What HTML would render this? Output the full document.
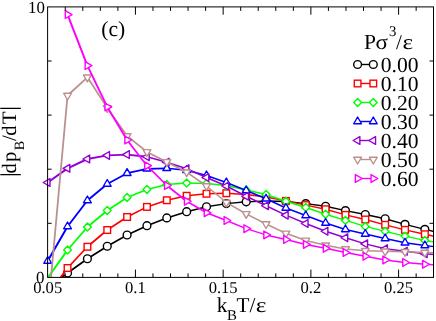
<!DOCTYPE html>
<html><head><meta charset="utf-8"><title>plot</title>
<style>
html,body{margin:0;padding:0;background:#fff;}
body{width:436px;height:321px;overflow:hidden;}
svg{display:block;will-change:transform;}
text{font-family:"Liberation Serif",serif;fill:#000;text-rendering:geometricPrecision;}
.sans{font-family:"Liberation Sans",sans-serif;}
</style></head><body>
<svg width="436" height="321" viewBox="0 0 436 321">
<rect x="0" y="0" width="436" height="321" fill="#fff"/>

<defs><clipPath id="box"><rect x="47.6" y="6.9" width="385.9" height="270.5"/></clipPath></defs>
<g id="black">
<g clip-path="url(#box)" fill="none" stroke="#000000" stroke-linecap="round">
<path d="M47.70 287.00L67.55 273.00" stroke-width="1.83"/>
<path d="M67.55 273.00L87.40 258.75" stroke-width="1.78"/>
<path d="M87.40 258.75L107.25 246.25" stroke-width="1.73"/>
<path d="M107.25 246.25L127.10 235.00" stroke-width="1.68"/>
<path d="M127.10 235.00L146.95 225.70" stroke-width="1.62"/>
<path d="M146.95 225.70L166.80 217.90" stroke-width="1.58"/>
<path d="M166.80 217.90L186.65 211.70" stroke-width="1.53"/>
<path d="M186.65 211.70L206.50 206.75" stroke-width="1.48"/>
<path d="M206.50 206.75L226.35 203.60" stroke-width="1.43"/>
<path d="M226.35 203.60L246.20 201.80" stroke-width="1.38"/>
<path d="M246.20 201.80L266.05 201.00" stroke-width="1.35"/>
<path d="M266.05 201.00L285.90 201.50" stroke-width="1.35"/>
<path d="M285.90 201.50L305.75 203.60" stroke-width="1.35"/>
<path d="M305.75 203.60L325.60 206.25" stroke-width="1.35"/>
<path d="M325.60 206.25L345.45 210.60" stroke-width="1.35"/>
<path d="M345.45 210.60L365.30 214.50" stroke-width="1.35"/>
<path d="M365.30 214.50L385.15 218.75" stroke-width="1.35"/>
<path d="M385.15 218.75L405.00 224.35" stroke-width="1.35"/>
<path d="M405.00 224.35L424.85 229.35" stroke-width="1.35"/>
<path d="M424.85 229.35L444.70 234.00" stroke-width="1.35"/>
</g>
<circle cx="67.55" cy="273.00" r="3.90" fill="#fff" stroke="#000000" stroke-width="1.4"/>
<circle cx="87.40" cy="258.75" r="3.90" fill="#fff" stroke="#000000" stroke-width="1.4"/>
<circle cx="107.25" cy="246.25" r="3.90" fill="#fff" stroke="#000000" stroke-width="1.4"/>
<circle cx="127.10" cy="235.00" r="3.90" fill="#fff" stroke="#000000" stroke-width="1.4"/>
<circle cx="146.95" cy="225.70" r="3.90" fill="#fff" stroke="#000000" stroke-width="1.4"/>
<circle cx="166.80" cy="217.90" r="3.90" fill="#fff" stroke="#000000" stroke-width="1.4"/>
<circle cx="186.65" cy="211.70" r="3.90" fill="#fff" stroke="#000000" stroke-width="1.4"/>
<circle cx="206.50" cy="206.75" r="3.90" fill="#fff" stroke="#000000" stroke-width="1.4"/>
<circle cx="226.35" cy="203.60" r="3.90" fill="#fff" stroke="#000000" stroke-width="1.4"/>
<circle cx="246.20" cy="201.80" r="3.90" fill="#fff" stroke="#000000" stroke-width="1.4"/>
<circle cx="266.05" cy="201.00" r="3.90" fill="#fff" stroke="#000000" stroke-width="1.4"/>
<circle cx="285.90" cy="201.50" r="3.90" fill="#fff" stroke="#000000" stroke-width="1.4"/>
<circle cx="305.75" cy="203.60" r="3.90" fill="#fff" stroke="#000000" stroke-width="1.4"/>
<circle cx="325.60" cy="206.25" r="3.90" fill="#fff" stroke="#000000" stroke-width="1.4"/>
<circle cx="345.45" cy="210.60" r="3.90" fill="#fff" stroke="#000000" stroke-width="1.4"/>
<circle cx="365.30" cy="214.50" r="3.90" fill="#fff" stroke="#000000" stroke-width="1.4"/>
<circle cx="385.15" cy="218.75" r="3.90" fill="#fff" stroke="#000000" stroke-width="1.4"/>
<circle cx="405.00" cy="224.35" r="3.90" fill="#fff" stroke="#000000" stroke-width="1.4"/>
<circle cx="424.85" cy="229.35" r="3.90" fill="#fff" stroke="#000000" stroke-width="1.4"/>
</g>
<g id="red">
<g clip-path="url(#box)" fill="none" stroke="#ff0000" stroke-linecap="round">
<path d="M47.70 295.00L67.55 268.00" stroke-width="1.83"/>
<path d="M67.55 268.00L87.40 246.75" stroke-width="1.78"/>
<path d="M87.40 246.75L107.25 230.00" stroke-width="1.73"/>
<path d="M107.25 230.00L127.10 217.00" stroke-width="1.68"/>
<path d="M127.10 217.00L146.95 206.90" stroke-width="1.62"/>
<path d="M146.95 206.90L166.80 200.25" stroke-width="1.58"/>
<path d="M166.80 200.25L186.65 195.75" stroke-width="1.53"/>
<path d="M186.65 195.75L206.50 193.75" stroke-width="1.48"/>
<path d="M206.50 193.75L226.35 193.25" stroke-width="1.43"/>
<path d="M226.35 193.25L246.20 194.50" stroke-width="1.38"/>
<path d="M246.20 194.50L266.05 197.00" stroke-width="1.35"/>
<path d="M266.05 197.00L285.90 200.90" stroke-width="1.35"/>
<path d="M285.90 200.90L305.75 205.10" stroke-width="1.35"/>
<path d="M305.75 205.10L325.60 209.25" stroke-width="1.35"/>
<path d="M325.60 209.25L345.45 214.90" stroke-width="1.35"/>
<path d="M345.45 214.90L365.30 219.50" stroke-width="1.35"/>
<path d="M365.30 219.50L385.15 224.80" stroke-width="1.35"/>
<path d="M385.15 224.80L405.00 229.85" stroke-width="1.35"/>
<path d="M405.00 229.85L424.85 234.25" stroke-width="1.35"/>
<path d="M424.85 234.25L444.70 238.50" stroke-width="1.35"/>
</g>
<rect x="64.24" y="264.69" width="6.63" height="6.63" fill="#fff" stroke="#ff0000" stroke-width="1.4"/>
<rect x="84.09" y="243.44" width="6.63" height="6.63" fill="#fff" stroke="#ff0000" stroke-width="1.4"/>
<rect x="103.94" y="226.69" width="6.63" height="6.63" fill="#fff" stroke="#ff0000" stroke-width="1.4"/>
<rect x="123.79" y="213.69" width="6.63" height="6.63" fill="#fff" stroke="#ff0000" stroke-width="1.4"/>
<rect x="143.63" y="203.59" width="6.63" height="6.63" fill="#fff" stroke="#ff0000" stroke-width="1.4"/>
<rect x="163.49" y="196.94" width="6.63" height="6.63" fill="#fff" stroke="#ff0000" stroke-width="1.4"/>
<rect x="183.34" y="192.44" width="6.63" height="6.63" fill="#fff" stroke="#ff0000" stroke-width="1.4"/>
<rect x="203.19" y="190.44" width="6.63" height="6.63" fill="#fff" stroke="#ff0000" stroke-width="1.4"/>
<rect x="223.04" y="189.94" width="6.63" height="6.63" fill="#fff" stroke="#ff0000" stroke-width="1.4"/>
<rect x="242.88" y="191.19" width="6.63" height="6.63" fill="#fff" stroke="#ff0000" stroke-width="1.4"/>
<rect x="262.74" y="193.69" width="6.63" height="6.63" fill="#fff" stroke="#ff0000" stroke-width="1.4"/>
<rect x="282.59" y="197.59" width="6.63" height="6.63" fill="#fff" stroke="#ff0000" stroke-width="1.4"/>
<rect x="302.44" y="201.78" width="6.63" height="6.63" fill="#fff" stroke="#ff0000" stroke-width="1.4"/>
<rect x="322.29" y="205.94" width="6.63" height="6.63" fill="#fff" stroke="#ff0000" stroke-width="1.4"/>
<rect x="342.13" y="211.59" width="6.63" height="6.63" fill="#fff" stroke="#ff0000" stroke-width="1.4"/>
<rect x="361.99" y="216.19" width="6.63" height="6.63" fill="#fff" stroke="#ff0000" stroke-width="1.4"/>
<rect x="381.84" y="221.49" width="6.63" height="6.63" fill="#fff" stroke="#ff0000" stroke-width="1.4"/>
<rect x="401.69" y="226.53" width="6.63" height="6.63" fill="#fff" stroke="#ff0000" stroke-width="1.4"/>
<rect x="421.54" y="230.94" width="6.63" height="6.63" fill="#fff" stroke="#ff0000" stroke-width="1.4"/>
</g>
<g id="green">
<g clip-path="url(#box)" fill="none" stroke="#00ff00" stroke-linecap="round">
<path d="M47.70 278.00L67.55 250.00" stroke-width="1.92"/>
<path d="M67.55 250.00L87.40 227.00" stroke-width="1.87"/>
<path d="M87.40 227.00L107.25 210.50" stroke-width="1.81"/>
<path d="M107.25 210.50L127.10 197.50" stroke-width="1.76"/>
<path d="M127.10 197.50L146.95 189.50" stroke-width="1.70"/>
<path d="M146.95 189.50L166.80 184.50" stroke-width="1.65"/>
<path d="M166.80 184.50L186.65 183.00" stroke-width="1.59"/>
<path d="M186.65 183.00L206.50 183.50" stroke-width="1.54"/>
<path d="M206.50 183.50L226.35 185.50" stroke-width="1.48"/>
<path d="M226.35 185.50L246.20 190.00" stroke-width="1.43"/>
<path d="M246.20 190.00L266.05 194.50" stroke-width="1.40"/>
<path d="M266.05 194.50L285.90 201.25" stroke-width="1.40"/>
<path d="M285.90 201.25L305.75 207.50" stroke-width="1.40"/>
<path d="M305.75 207.50L325.60 214.25" stroke-width="1.40"/>
<path d="M325.60 214.25L345.45 220.40" stroke-width="1.40"/>
<path d="M345.45 220.40L365.30 226.40" stroke-width="1.40"/>
<path d="M365.30 226.40L385.15 231.35" stroke-width="1.40"/>
<path d="M385.15 231.35L405.00 236.10" stroke-width="1.40"/>
<path d="M405.00 236.10L424.85 240.40" stroke-width="1.40"/>
<path d="M424.85 240.40L444.70 244.00" stroke-width="1.40"/>
</g>
<polygon points="67.55,246.10 71.45,250.00 67.55,253.90 63.65,250.00" fill="#fff" stroke="#00ff00" stroke-width="1.4" stroke-linejoin="round"/>
<polygon points="87.40,223.10 91.30,227.00 87.40,230.90 83.50,227.00" fill="#fff" stroke="#00ff00" stroke-width="1.4" stroke-linejoin="round"/>
<polygon points="107.25,206.60 111.15,210.50 107.25,214.40 103.35,210.50" fill="#fff" stroke="#00ff00" stroke-width="1.4" stroke-linejoin="round"/>
<polygon points="127.10,193.60 131.00,197.50 127.10,201.40 123.20,197.50" fill="#fff" stroke="#00ff00" stroke-width="1.4" stroke-linejoin="round"/>
<polygon points="146.95,185.60 150.85,189.50 146.95,193.40 143.05,189.50" fill="#fff" stroke="#00ff00" stroke-width="1.4" stroke-linejoin="round"/>
<polygon points="166.80,180.60 170.70,184.50 166.80,188.40 162.90,184.50" fill="#fff" stroke="#00ff00" stroke-width="1.4" stroke-linejoin="round"/>
<polygon points="186.65,179.10 190.55,183.00 186.65,186.90 182.75,183.00" fill="#fff" stroke="#00ff00" stroke-width="1.4" stroke-linejoin="round"/>
<polygon points="206.50,179.60 210.40,183.50 206.50,187.40 202.60,183.50" fill="#fff" stroke="#00ff00" stroke-width="1.4" stroke-linejoin="round"/>
<polygon points="226.35,181.60 230.25,185.50 226.35,189.40 222.45,185.50" fill="#fff" stroke="#00ff00" stroke-width="1.4" stroke-linejoin="round"/>
<polygon points="246.20,186.10 250.10,190.00 246.20,193.90 242.30,190.00" fill="#fff" stroke="#00ff00" stroke-width="1.4" stroke-linejoin="round"/>
<polygon points="266.05,190.60 269.95,194.50 266.05,198.40 262.15,194.50" fill="#fff" stroke="#00ff00" stroke-width="1.4" stroke-linejoin="round"/>
<polygon points="285.90,197.35 289.80,201.25 285.90,205.15 282.00,201.25" fill="#fff" stroke="#00ff00" stroke-width="1.4" stroke-linejoin="round"/>
<polygon points="305.75,203.60 309.65,207.50 305.75,211.40 301.85,207.50" fill="#fff" stroke="#00ff00" stroke-width="1.4" stroke-linejoin="round"/>
<polygon points="325.60,210.35 329.50,214.25 325.60,218.15 321.70,214.25" fill="#fff" stroke="#00ff00" stroke-width="1.4" stroke-linejoin="round"/>
<polygon points="345.45,216.50 349.35,220.40 345.45,224.30 341.55,220.40" fill="#fff" stroke="#00ff00" stroke-width="1.4" stroke-linejoin="round"/>
<polygon points="365.30,222.50 369.20,226.40 365.30,230.30 361.40,226.40" fill="#fff" stroke="#00ff00" stroke-width="1.4" stroke-linejoin="round"/>
<polygon points="385.15,227.45 389.05,231.35 385.15,235.25 381.25,231.35" fill="#fff" stroke="#00ff00" stroke-width="1.4" stroke-linejoin="round"/>
<polygon points="405.00,232.20 408.90,236.10 405.00,240.00 401.10,236.10" fill="#fff" stroke="#00ff00" stroke-width="1.4" stroke-linejoin="round"/>
<polygon points="424.85,236.50 428.75,240.40 424.85,244.30 420.95,240.40" fill="#fff" stroke="#00ff00" stroke-width="1.4" stroke-linejoin="round"/>
</g>
<g id="blue">
<g clip-path="url(#box)" fill="none" stroke="#0000ff" stroke-linecap="round">
<path d="M47.70 261.00L67.55 226.50" stroke-width="1.97"/>
<path d="M67.55 226.50L87.40 200.50" stroke-width="1.91"/>
<path d="M87.40 200.50L107.25 184.00" stroke-width="1.85"/>
<path d="M107.25 184.00L127.10 173.20" stroke-width="1.79"/>
<path d="M127.10 173.20L146.95 168.80" stroke-width="1.73"/>
<path d="M146.95 168.80L166.80 168.30" stroke-width="1.67"/>
<path d="M166.80 168.30L186.65 170.30" stroke-width="1.61"/>
<path d="M186.65 170.30L206.50 175.50" stroke-width="1.55"/>
<path d="M206.50 175.50L226.35 182.50" stroke-width="1.49"/>
<path d="M226.35 182.50L246.20 190.50" stroke-width="1.43"/>
<path d="M246.20 190.50L266.05 198.75" stroke-width="1.40"/>
<path d="M266.05 198.75L285.90 208.00" stroke-width="1.40"/>
<path d="M285.90 208.00L305.75 215.50" stroke-width="1.40"/>
<path d="M305.75 215.50L325.60 223.00" stroke-width="1.40"/>
<path d="M325.60 223.00L345.45 229.50" stroke-width="1.40"/>
<path d="M345.45 229.50L365.30 234.00" stroke-width="1.40"/>
<path d="M365.30 234.00L385.15 238.50" stroke-width="1.40"/>
<path d="M385.15 238.50L405.00 242.75" stroke-width="1.40"/>
<path d="M405.00 242.75L424.85 245.50" stroke-width="1.40"/>
<path d="M424.85 245.50L444.70 248.00" stroke-width="1.40"/>
</g>
<polygon points="47.70,256.50 43.80,263.25 51.60,263.25" fill="#fff" stroke="#0000ff" stroke-width="1.4" stroke-linejoin="round"/>
<polygon points="67.55,222.00 63.65,228.75 71.45,228.75" fill="#fff" stroke="#0000ff" stroke-width="1.4" stroke-linejoin="round"/>
<polygon points="87.40,196.00 83.50,202.75 91.30,202.75" fill="#fff" stroke="#0000ff" stroke-width="1.4" stroke-linejoin="round"/>
<polygon points="107.25,179.50 103.35,186.25 111.15,186.25" fill="#fff" stroke="#0000ff" stroke-width="1.4" stroke-linejoin="round"/>
<polygon points="127.10,168.70 123.20,175.45 131.00,175.45" fill="#fff" stroke="#0000ff" stroke-width="1.4" stroke-linejoin="round"/>
<polygon points="146.95,164.30 143.05,171.05 150.85,171.05" fill="#fff" stroke="#0000ff" stroke-width="1.4" stroke-linejoin="round"/>
<polygon points="166.80,163.80 162.90,170.55 170.70,170.55" fill="#fff" stroke="#0000ff" stroke-width="1.4" stroke-linejoin="round"/>
<polygon points="186.65,165.80 182.75,172.55 190.55,172.55" fill="#fff" stroke="#0000ff" stroke-width="1.4" stroke-linejoin="round"/>
<polygon points="206.50,171.00 202.60,177.75 210.40,177.75" fill="#fff" stroke="#0000ff" stroke-width="1.4" stroke-linejoin="round"/>
<polygon points="226.35,178.00 222.45,184.75 230.25,184.75" fill="#fff" stroke="#0000ff" stroke-width="1.4" stroke-linejoin="round"/>
<polygon points="246.20,186.00 242.30,192.75 250.10,192.75" fill="#fff" stroke="#0000ff" stroke-width="1.4" stroke-linejoin="round"/>
<polygon points="266.05,194.25 262.15,201.00 269.95,201.00" fill="#fff" stroke="#0000ff" stroke-width="1.4" stroke-linejoin="round"/>
<polygon points="285.90,203.50 282.00,210.25 289.80,210.25" fill="#fff" stroke="#0000ff" stroke-width="1.4" stroke-linejoin="round"/>
<polygon points="305.75,211.00 301.85,217.75 309.65,217.75" fill="#fff" stroke="#0000ff" stroke-width="1.4" stroke-linejoin="round"/>
<polygon points="325.60,218.50 321.70,225.25 329.50,225.25" fill="#fff" stroke="#0000ff" stroke-width="1.4" stroke-linejoin="round"/>
<polygon points="345.45,225.00 341.55,231.75 349.35,231.75" fill="#fff" stroke="#0000ff" stroke-width="1.4" stroke-linejoin="round"/>
<polygon points="365.30,229.50 361.40,236.25 369.20,236.25" fill="#fff" stroke="#0000ff" stroke-width="1.4" stroke-linejoin="round"/>
<polygon points="385.15,234.00 381.25,240.75 389.05,240.75" fill="#fff" stroke="#0000ff" stroke-width="1.4" stroke-linejoin="round"/>
<polygon points="405.00,238.25 401.10,245.00 408.90,245.00" fill="#fff" stroke="#0000ff" stroke-width="1.4" stroke-linejoin="round"/>
<polygon points="424.85,241.00 420.95,247.75 428.75,247.75" fill="#fff" stroke="#0000ff" stroke-width="1.4" stroke-linejoin="round"/>
</g>
<g id="violet">
<g clip-path="url(#box)" fill="none" stroke="#9400d3" stroke-linecap="round">
<path d="M47.70 182.50L67.55 168.30" stroke-width="2.06"/>
<path d="M67.55 168.30L87.40 159.00" stroke-width="2.00"/>
<path d="M87.40 159.00L107.25 155.40" stroke-width="1.93"/>
<path d="M107.25 155.40L127.10 154.60" stroke-width="1.85"/>
<path d="M127.10 154.60L146.95 156.75" stroke-width="1.79"/>
<path d="M146.95 156.75L166.80 162.20" stroke-width="1.71"/>
<path d="M166.80 162.20L186.65 168.75" stroke-width="1.65"/>
<path d="M186.65 168.75L206.50 177.50" stroke-width="1.57"/>
<path d="M206.50 177.50L226.35 186.00" stroke-width="1.50"/>
<path d="M226.35 186.00L246.20 196.25" stroke-width="1.44"/>
<path d="M246.20 196.25L266.05 205.75" stroke-width="1.40"/>
<path d="M266.05 205.75L285.90 215.20" stroke-width="1.40"/>
<path d="M285.90 215.20L305.75 223.50" stroke-width="1.40"/>
<path d="M305.75 223.50L325.60 231.25" stroke-width="1.40"/>
<path d="M325.60 231.25L345.45 237.75" stroke-width="1.40"/>
<path d="M345.45 237.75L365.30 243.85" stroke-width="1.40"/>
<path d="M365.30 243.85L385.15 248.75" stroke-width="1.40"/>
<path d="M385.15 248.75L405.00 251.25" stroke-width="1.40"/>
<path d="M405.00 251.25L424.85 253.75" stroke-width="1.40"/>
<path d="M424.85 253.75L444.70 255.50" stroke-width="1.40"/>
</g>
<polygon points="43.20,182.50 49.95,178.60 49.95,186.40" fill="#fff" stroke="#9400d3" stroke-width="1.4" stroke-linejoin="round"/>
<polygon points="63.05,168.30 69.80,164.40 69.80,172.20" fill="#fff" stroke="#9400d3" stroke-width="1.4" stroke-linejoin="round"/>
<polygon points="82.90,159.00 89.65,155.10 89.65,162.90" fill="#fff" stroke="#9400d3" stroke-width="1.4" stroke-linejoin="round"/>
<polygon points="102.75,155.40 109.50,151.50 109.50,159.30" fill="#fff" stroke="#9400d3" stroke-width="1.4" stroke-linejoin="round"/>
<polygon points="122.60,154.60 129.35,150.70 129.35,158.50" fill="#fff" stroke="#9400d3" stroke-width="1.4" stroke-linejoin="round"/>
<polygon points="142.45,156.75 149.20,152.85 149.20,160.65" fill="#fff" stroke="#9400d3" stroke-width="1.4" stroke-linejoin="round"/>
<polygon points="162.30,162.20 169.05,158.30 169.05,166.10" fill="#fff" stroke="#9400d3" stroke-width="1.4" stroke-linejoin="round"/>
<polygon points="182.15,168.75 188.90,164.85 188.90,172.65" fill="#fff" stroke="#9400d3" stroke-width="1.4" stroke-linejoin="round"/>
<polygon points="202.00,177.50 208.75,173.60 208.75,181.40" fill="#fff" stroke="#9400d3" stroke-width="1.4" stroke-linejoin="round"/>
<polygon points="221.85,186.00 228.60,182.10 228.60,189.90" fill="#fff" stroke="#9400d3" stroke-width="1.4" stroke-linejoin="round"/>
<polygon points="241.70,196.25 248.45,192.35 248.45,200.15" fill="#fff" stroke="#9400d3" stroke-width="1.4" stroke-linejoin="round"/>
<polygon points="261.55,205.75 268.30,201.85 268.30,209.65" fill="#fff" stroke="#9400d3" stroke-width="1.4" stroke-linejoin="round"/>
<polygon points="281.40,215.20 288.15,211.30 288.15,219.10" fill="#fff" stroke="#9400d3" stroke-width="1.4" stroke-linejoin="round"/>
<polygon points="301.25,223.50 308.00,219.60 308.00,227.40" fill="#fff" stroke="#9400d3" stroke-width="1.4" stroke-linejoin="round"/>
<polygon points="321.10,231.25 327.85,227.35 327.85,235.15" fill="#fff" stroke="#9400d3" stroke-width="1.4" stroke-linejoin="round"/>
<polygon points="340.95,237.75 347.70,233.85 347.70,241.65" fill="#fff" stroke="#9400d3" stroke-width="1.4" stroke-linejoin="round"/>
<polygon points="360.80,243.85 367.55,239.95 367.55,247.75" fill="#fff" stroke="#9400d3" stroke-width="1.4" stroke-linejoin="round"/>
<polygon points="380.65,248.75 387.40,244.85 387.40,252.65" fill="#fff" stroke="#9400d3" stroke-width="1.4" stroke-linejoin="round"/>
<polygon points="400.50,251.25 407.25,247.35 407.25,255.15" fill="#fff" stroke="#9400d3" stroke-width="1.4" stroke-linejoin="round"/>
<polygon points="420.35,253.75 427.10,249.85 427.10,257.65" fill="#fff" stroke="#9400d3" stroke-width="1.4" stroke-linejoin="round"/>
</g>
<g id="brown">
<g clip-path="url(#box)" fill="none" stroke="#bc8f8f" stroke-linecap="round">
<path d="M47.70 314.00L67.55 95.50" stroke-width="1.79"/>
<path d="M67.55 95.50L87.40 77.30" stroke-width="1.76"/>
<path d="M87.40 77.30L107.25 107.90" stroke-width="1.74"/>
<path d="M107.25 107.90L127.10 136.00" stroke-width="1.71"/>
<path d="M127.10 136.00L146.95 151.90" stroke-width="1.69"/>
<path d="M146.95 151.90L166.80 161.90" stroke-width="1.66"/>
<path d="M166.80 161.90L186.65 172.20" stroke-width="1.64"/>
<path d="M186.65 172.20L206.50 186.00" stroke-width="1.61"/>
<path d="M206.50 186.00L226.35 202.50" stroke-width="1.59"/>
<path d="M226.35 202.50L246.20 213.90" stroke-width="1.56"/>
<path d="M246.20 213.90L266.05 224.00" stroke-width="1.55"/>
<path d="M266.05 224.00L285.90 233.35" stroke-width="1.55"/>
<path d="M285.90 233.35L305.75 240.40" stroke-width="1.55"/>
<path d="M305.75 240.40L325.60 245.30" stroke-width="1.55"/>
<path d="M325.60 245.30L345.45 249.00" stroke-width="1.55"/>
<path d="M345.45 249.00L365.30 250.75" stroke-width="1.55"/>
<path d="M365.30 250.75L385.15 251.25" stroke-width="1.55"/>
<path d="M385.15 251.25L405.00 251.75" stroke-width="1.55"/>
<path d="M405.00 251.75L424.85 252.50" stroke-width="1.55"/>
<path d="M424.85 252.50L444.70 253.00" stroke-width="1.55"/>
</g>
<polygon points="67.55,100.00 63.65,93.25 71.45,93.25" fill="#fff" stroke="#bc8f8f" stroke-width="1.4" stroke-linejoin="round"/>
<polygon points="87.40,81.80 83.50,75.05 91.30,75.05" fill="#fff" stroke="#bc8f8f" stroke-width="1.4" stroke-linejoin="round"/>
<polygon points="107.25,112.40 103.35,105.65 111.15,105.65" fill="#fff" stroke="#bc8f8f" stroke-width="1.4" stroke-linejoin="round"/>
<polygon points="127.10,140.50 123.20,133.75 131.00,133.75" fill="#fff" stroke="#bc8f8f" stroke-width="1.4" stroke-linejoin="round"/>
<polygon points="146.95,156.40 143.05,149.65 150.85,149.65" fill="#fff" stroke="#bc8f8f" stroke-width="1.4" stroke-linejoin="round"/>
<polygon points="166.80,166.40 162.90,159.65 170.70,159.65" fill="#fff" stroke="#bc8f8f" stroke-width="1.4" stroke-linejoin="round"/>
<polygon points="186.65,176.70 182.75,169.95 190.55,169.95" fill="#fff" stroke="#bc8f8f" stroke-width="1.4" stroke-linejoin="round"/>
<polygon points="206.50,190.50 202.60,183.75 210.40,183.75" fill="#fff" stroke="#bc8f8f" stroke-width="1.4" stroke-linejoin="round"/>
<polygon points="226.35,207.00 222.45,200.25 230.25,200.25" fill="#fff" stroke="#bc8f8f" stroke-width="1.4" stroke-linejoin="round"/>
<polygon points="246.20,218.40 242.30,211.65 250.10,211.65" fill="#fff" stroke="#bc8f8f" stroke-width="1.4" stroke-linejoin="round"/>
<polygon points="266.05,228.50 262.15,221.75 269.95,221.75" fill="#fff" stroke="#bc8f8f" stroke-width="1.4" stroke-linejoin="round"/>
<polygon points="285.90,237.85 282.00,231.10 289.80,231.10" fill="#fff" stroke="#bc8f8f" stroke-width="1.4" stroke-linejoin="round"/>
<polygon points="305.75,244.90 301.85,238.15 309.65,238.15" fill="#fff" stroke="#bc8f8f" stroke-width="1.4" stroke-linejoin="round"/>
<polygon points="325.60,249.80 321.70,243.05 329.50,243.05" fill="#fff" stroke="#bc8f8f" stroke-width="1.4" stroke-linejoin="round"/>
<polygon points="345.45,253.50 341.55,246.75 349.35,246.75" fill="#fff" stroke="#bc8f8f" stroke-width="1.4" stroke-linejoin="round"/>
<polygon points="365.30,255.25 361.40,248.50 369.20,248.50" fill="#fff" stroke="#bc8f8f" stroke-width="1.4" stroke-linejoin="round"/>
<polygon points="385.15,255.75 381.25,249.00 389.05,249.00" fill="#fff" stroke="#bc8f8f" stroke-width="1.4" stroke-linejoin="round"/>
<polygon points="405.00,256.25 401.10,249.50 408.90,249.50" fill="#fff" stroke="#bc8f8f" stroke-width="1.4" stroke-linejoin="round"/>
<polygon points="424.85,257.00 420.95,250.25 428.75,250.25" fill="#fff" stroke="#bc8f8f" stroke-width="1.4" stroke-linejoin="round"/>
</g>
<g id="magenta">
<g clip-path="url(#box)" fill="none" stroke="#ff00ff" stroke-linecap="round">
<path d="M67.55 14.60L87.40 65.60" stroke-width="1.97"/>
<path d="M87.40 65.60L107.25 106.90" stroke-width="1.91"/>
<path d="M107.25 106.90L127.10 140.00" stroke-width="1.86"/>
<path d="M127.10 140.00L146.95 165.70" stroke-width="1.80"/>
<path d="M146.95 165.70L166.80 185.50" stroke-width="1.75"/>
<path d="M166.80 185.50L186.65 201.25" stroke-width="1.69"/>
<path d="M186.65 201.25L206.50 212.80" stroke-width="1.64"/>
<path d="M206.50 212.80L226.35 220.50" stroke-width="1.58"/>
<path d="M226.35 220.50L246.20 228.65" stroke-width="1.53"/>
<path d="M246.20 228.65L266.05 234.90" stroke-width="1.50"/>
<path d="M266.05 234.90L285.90 239.50" stroke-width="1.50"/>
<path d="M285.90 239.50L305.75 244.40" stroke-width="1.50"/>
<path d="M305.75 244.40L325.60 248.30" stroke-width="1.50"/>
<path d="M325.60 248.30L345.45 252.50" stroke-width="1.50"/>
<path d="M345.45 252.50L365.30 256.25" stroke-width="1.50"/>
<path d="M365.30 256.25L385.15 260.00" stroke-width="1.50"/>
<path d="M385.15 260.00L405.00 262.50" stroke-width="1.50"/>
<path d="M405.00 262.50L424.85 264.25" stroke-width="1.50"/>
<path d="M424.85 264.25L444.70 265.50" stroke-width="1.50"/>
</g>
<polygon points="72.05,14.60 65.30,10.70 65.30,18.50" fill="#fff" stroke="#ff00ff" stroke-width="1.4" stroke-linejoin="round"/>
<polygon points="91.90,65.60 85.15,61.70 85.15,69.50" fill="#fff" stroke="#ff00ff" stroke-width="1.4" stroke-linejoin="round"/>
<polygon points="111.75,106.90 105.00,103.00 105.00,110.80" fill="#fff" stroke="#ff00ff" stroke-width="1.4" stroke-linejoin="round"/>
<polygon points="131.60,140.00 124.85,136.10 124.85,143.90" fill="#fff" stroke="#ff00ff" stroke-width="1.4" stroke-linejoin="round"/>
<polygon points="151.45,165.70 144.70,161.80 144.70,169.60" fill="#fff" stroke="#ff00ff" stroke-width="1.4" stroke-linejoin="round"/>
<polygon points="171.30,185.50 164.55,181.60 164.55,189.40" fill="#fff" stroke="#ff00ff" stroke-width="1.4" stroke-linejoin="round"/>
<polygon points="191.15,201.25 184.40,197.35 184.40,205.15" fill="#fff" stroke="#ff00ff" stroke-width="1.4" stroke-linejoin="round"/>
<polygon points="211.00,212.80 204.25,208.90 204.25,216.70" fill="#fff" stroke="#ff00ff" stroke-width="1.4" stroke-linejoin="round"/>
<polygon points="230.85,220.50 224.10,216.60 224.10,224.40" fill="#fff" stroke="#ff00ff" stroke-width="1.4" stroke-linejoin="round"/>
<polygon points="250.70,228.65 243.95,224.75 243.95,232.55" fill="#fff" stroke="#ff00ff" stroke-width="1.4" stroke-linejoin="round"/>
<polygon points="270.55,234.90 263.80,231.00 263.80,238.80" fill="#fff" stroke="#ff00ff" stroke-width="1.4" stroke-linejoin="round"/>
<polygon points="290.40,239.50 283.65,235.60 283.65,243.40" fill="#fff" stroke="#ff00ff" stroke-width="1.4" stroke-linejoin="round"/>
<polygon points="310.25,244.40 303.50,240.50 303.50,248.30" fill="#fff" stroke="#ff00ff" stroke-width="1.4" stroke-linejoin="round"/>
<polygon points="330.10,248.30 323.35,244.40 323.35,252.20" fill="#fff" stroke="#ff00ff" stroke-width="1.4" stroke-linejoin="round"/>
<polygon points="349.95,252.50 343.20,248.60 343.20,256.40" fill="#fff" stroke="#ff00ff" stroke-width="1.4" stroke-linejoin="round"/>
<polygon points="369.80,256.25 363.05,252.35 363.05,260.15" fill="#fff" stroke="#ff00ff" stroke-width="1.4" stroke-linejoin="round"/>
<polygon points="389.65,260.00 382.90,256.10 382.90,263.90" fill="#fff" stroke="#ff00ff" stroke-width="1.4" stroke-linejoin="round"/>
<polygon points="409.50,262.50 402.75,258.60 402.75,266.40" fill="#fff" stroke="#ff00ff" stroke-width="1.4" stroke-linejoin="round"/>
<polygon points="429.35,264.25 422.60,260.35 422.60,268.15" fill="#fff" stroke="#ff00ff" stroke-width="1.4" stroke-linejoin="round"/>
</g>
<rect x="47.6" y="6.9" width="385.9" height="270.5" fill="none" stroke="#000" stroke-width="1.0"/>
<path d="M65.25 277.4v-4M65.25 6.9v4M82.79 277.4v-4M82.79 6.9v4M100.34 277.4v-4M100.34 6.9v4M117.88 277.4v-4M117.88 6.9v4M135.43 277.4v-7.8M135.43 6.9v7.8M152.97 277.4v-4M152.97 6.9v4M170.52 277.4v-4M170.52 6.9v4M188.06 277.4v-4M188.06 6.9v4M205.61 277.4v-4M205.61 6.9v4M223.15 277.4v-7.8M223.15 6.9v7.8M240.69 277.4v-4M240.69 6.9v4M258.24 277.4v-4M258.24 6.9v4M275.79 277.4v-4M275.79 6.9v4M293.33 277.4v-4M293.33 6.9v4M310.88 277.4v-7.8M310.88 6.9v7.8M328.42 277.4v-4M328.42 6.9v4M345.97 277.4v-4M345.97 6.9v4M363.51 277.4v-4M363.51 6.9v4M381.06 277.4v-4M381.06 6.9v4M398.60 277.4v-7.8M398.60 6.9v7.8M416.15 277.4v-4M416.15 6.9v4M47.6 223.30h4M433.5 223.30h-4M47.6 169.20h4M433.5 169.20h-4M47.6 115.10h4M433.5 115.10h-4M47.6 61.00h4M433.5 61.00h-4" stroke="#000" stroke-width="1" fill="none"/>
<text x="47.70" y="292.7" font-size="16.6" text-anchor="middle">0.05</text>
<text x="135.43" y="292.7" font-size="16.6" text-anchor="middle">0.1</text>
<text x="223.15" y="292.7" font-size="16.6" text-anchor="middle">0.15</text>
<text x="310.88" y="292.7" font-size="16.6" text-anchor="middle">0.2</text>
<text x="398.60" y="292.7" font-size="16.6" text-anchor="middle">0.25</text>
<text x="44.5" y="282.8" font-size="16.9" text-anchor="end">0</text>
<text x="45.0" y="12.7" font-size="16.9" text-anchor="end">10</text>
<text x="101.2" y="35.6" font-size="21.6">(c)</text>
<g transform="translate(16.2,174.6) rotate(-90)">
<path d="M0 -15.9V4.6M66.2 -15.9V4.6" stroke="#000" stroke-width="1.3" fill="none"/>
<text x="1.05" y="0" font-size="20.5">d</text>
<text x="12.5" y="0" font-size="20.5">p</text>
<text x="24.4" y="7.6" font-size="14.2">B</text>
<text x="33.6" y="0" font-size="20.5">/</text>
<text x="38.9" y="0" font-size="20.5">d</text>
<text x="50.6" y="0" font-size="20.5">T</text>
</g>
<text x="216.7" y="311.6" font-size="21.2">k</text>
<text x="227.1" y="319.6" font-size="14.8">B</text>
<text x="236.5" y="311.6" font-size="21.2">T</text>
<text x="249.5" y="311.6" font-size="21.2">/</text>
<text transform="translate(255.7,311.6) scale(1.2,1)" font-size="21.2">ε</text>
<text transform="translate(363.9,48.9) scale(1,1)" font-size="21.5">P</text>
<text transform="translate(375.6,48.9) scale(1.1,1)" font-size="21">σ</text>
<text transform="translate(389.1,36.2) scale(1,1)" font-size="14.8">3</text>
<text transform="translate(396.0,48.9) scale(1,1)" font-size="21">/</text>
<text transform="translate(402.4,48.9) scale(1.2,1)" font-size="21">ε</text>
<line x1="357.6" y1="64.50" x2="373.3" y2="64.50" stroke="#000000" stroke-width="1.4"/>
<circle cx="357.60" cy="64.50" r="3.90" fill="#fff" stroke="#000000" stroke-width="1.4"/>
<circle cx="373.30" cy="64.50" r="3.90" fill="#fff" stroke="#000000" stroke-width="1.4"/>
<text x="380.7" y="71.85" font-size="21.6">0.00</text>
<line x1="357.6" y1="83.50" x2="373.3" y2="83.50" stroke="#ff0000" stroke-width="1.4"/>
<rect x="354.29" y="80.19" width="6.63" height="6.63" fill="#fff" stroke="#ff0000" stroke-width="1.4"/>
<rect x="369.99" y="80.19" width="6.63" height="6.63" fill="#fff" stroke="#ff0000" stroke-width="1.4"/>
<text x="380.7" y="90.85" font-size="21.6">0.10</text>
<line x1="357.6" y1="102.50" x2="373.3" y2="102.50" stroke="#00ff00" stroke-width="1.4"/>
<polygon points="357.60,98.60 361.50,102.50 357.60,106.40 353.70,102.50" fill="#fff" stroke="#00ff00" stroke-width="1.4" stroke-linejoin="round"/>
<polygon points="373.30,98.60 377.20,102.50 373.30,106.40 369.40,102.50" fill="#fff" stroke="#00ff00" stroke-width="1.4" stroke-linejoin="round"/>
<text x="380.7" y="109.85" font-size="21.6">0.20</text>
<line x1="357.6" y1="121.50" x2="373.3" y2="121.50" stroke="#0000ff" stroke-width="1.4"/>
<polygon points="357.60,117.00 353.70,123.75 361.50,123.75" fill="#fff" stroke="#0000ff" stroke-width="1.4" stroke-linejoin="round"/>
<polygon points="373.30,117.00 369.40,123.75 377.20,123.75" fill="#fff" stroke="#0000ff" stroke-width="1.4" stroke-linejoin="round"/>
<text x="380.7" y="128.85" font-size="21.6">0.30</text>
<line x1="357.6" y1="140.50" x2="373.3" y2="140.50" stroke="#9400d3" stroke-width="1.4"/>
<polygon points="353.10,140.50 359.85,136.60 359.85,144.40" fill="#fff" stroke="#9400d3" stroke-width="1.4" stroke-linejoin="round"/>
<polygon points="368.80,140.50 375.55,136.60 375.55,144.40" fill="#fff" stroke="#9400d3" stroke-width="1.4" stroke-linejoin="round"/>
<text x="380.7" y="147.85" font-size="21.6">0.40</text>
<line x1="357.6" y1="159.50" x2="373.3" y2="159.50" stroke="#bc8f8f" stroke-width="1.4"/>
<polygon points="357.60,164.00 353.70,157.25 361.50,157.25" fill="#fff" stroke="#bc8f8f" stroke-width="1.4" stroke-linejoin="round"/>
<polygon points="373.30,164.00 369.40,157.25 377.20,157.25" fill="#fff" stroke="#bc8f8f" stroke-width="1.4" stroke-linejoin="round"/>
<text x="380.7" y="166.85" font-size="21.6">0.50</text>
<line x1="357.6" y1="178.50" x2="373.3" y2="178.50" stroke="#ff00ff" stroke-width="1.4"/>
<polygon points="362.10,178.50 355.35,174.60 355.35,182.40" fill="#fff" stroke="#ff00ff" stroke-width="1.4" stroke-linejoin="round"/>
<polygon points="377.80,178.50 371.05,174.60 371.05,182.40" fill="#fff" stroke="#ff00ff" stroke-width="1.4" stroke-linejoin="round"/>
<text x="380.7" y="185.85" font-size="21.6">0.60</text>
</svg></body></html>
